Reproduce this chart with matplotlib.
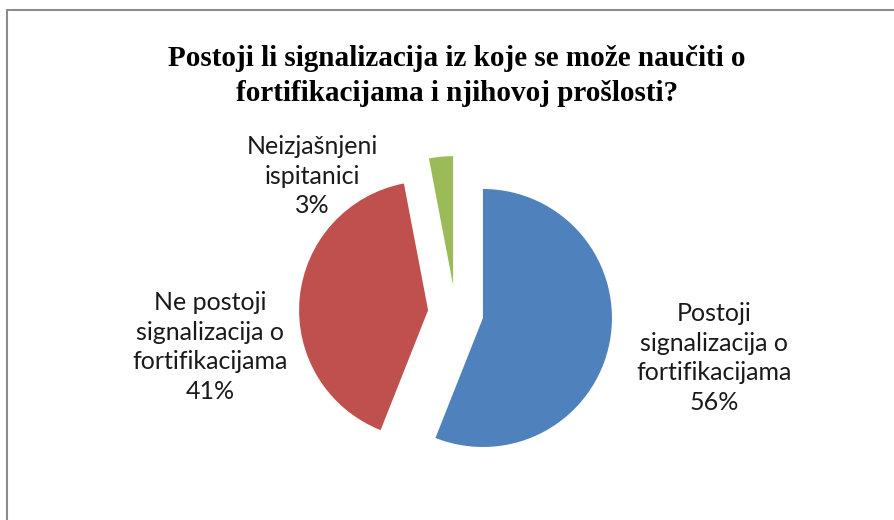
import matplotlib
matplotlib.use("Agg")
import matplotlib.pyplot as plt
from matplotlib.patches import Rectangle

# data
categories = ["Postoji\nsignalizacija o\nfortifikacijama",
              "Ne postoji\nsignalizacija o\nfortifikacijama",
              "Neizjašnjeni\nispitanici"]
values = [56, 41, 3]
colors = ["#4F81BD", "#C0504D", "#9BBB59"]
title = "Postoji li signalizacija iz koje se može naučiti o\nfortifikacijama i njihovoj prošlosti?"

W, H = 894, 520
fig = plt.figure(figsize=(W / 100, H / 100), dpi=100)

# pie center / radius in pixels
cx, cy, R = 455.7, 312.8, 129.0
ax = fig.add_axes([0, 0, 1, 1])
ax.axis("off")

ax.pie(values, colors=colors, startangle=90, counterclock=False,
       explode=[0.215] * len(values), radius=1.0, center=(0, 0), frame=False)
ax.set_xlim(-cx / R, (W - cx) / R)
ax.set_ylim(-(H - cy) / R, cy / R)
ax.set_aspect("auto")

# chart border (cropped on right and bottom)
fig.patches.append(Rectangle((7 / W, -0.1), 1.2, 1 - 10 / H + 0.1,
                             transform=fig.transFigure, fill=False,
                             edgecolor="#8c8c8c", linewidth=1.5))

fig.text(457 / W, 1 - 76 / H, title, ha="center", va="center",
         family="Liberation Serif", fontweight="bold", fontsize=21,
         linespacing=1.36)

label_pos = [(714, 358), (210, 347), (312, 176)]
for cat, v, (lx, ly) in zip(categories, values, label_pos):
    fig.text(lx / W, 1 - ly / H, f"{cat}\n{v}%", ha="center", va="center",
             family="Lato", fontsize=18, linespacing=1.36, color="#1a1a1a")

fig.savefig("out.png", dpi=100)
